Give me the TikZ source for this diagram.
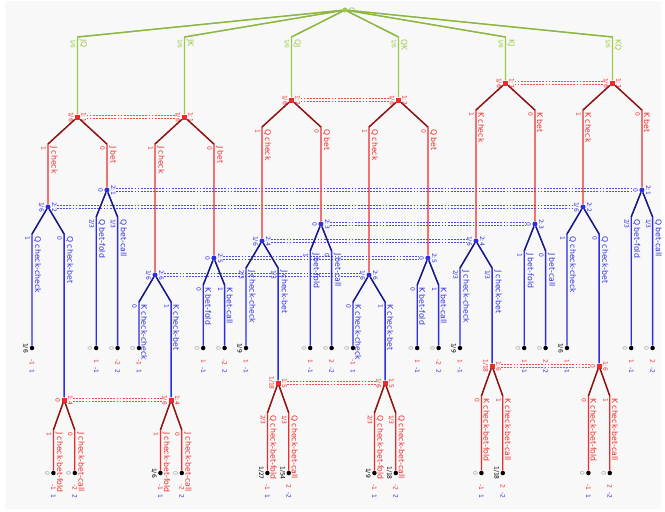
\documentclass[tikz,border=0pt]{standalone}
\usepackage{fontspec}
\setmainfont{DejaVu Sans}
\usetikzlibrary{calc}
\definecolor{playerone}{HTML}{EE2B2B}
\definecolor{playertwo}{HTML}{2E2EE0}
\definecolor{chance}{HTML}{9CC94A}
\definecolor{zerogray}{HTML}{9A9A9A}
\definecolor{canvas}{HTML}{F8F8F8}
\newcommand{\pay}[2]{\textcolor{playerone}{#1}\hspace{4.5pt}\textcolor{playertwo}{#2}}
\newcommand{\infoset}[3]{%
  \draw[#1] ([xshift=9pt,yshift=1.3pt]#2.center) -- ([xshift=-9pt,yshift=1.3pt]#3.center);
  \draw[#1] ([xshift=9pt,yshift=-1.3pt]#2.center) -- ([xshift=-9pt,yshift=-1.3pt]#3.center);}

\begin{document}
\begin{tikzpicture}[
    x=1pt, y=-1pt,
    actfont/.style={font=\fontsize{7.8}{8}\selectfont},
    numfont/.style={font=\fontsize{6}{6}\selectfont},
    gfork/.style={to path={let \p1=(\tikztostart), \p2=(\tikztotarget) in -- (\x2,\y1-#1) -- (\tikztotarget) \tikztonodes (\tikztostart) edge[diag] (\x2,\y1-#1)}},
    gfork/.default=27pt,
    chedge/.style={color=chance, line width=1.3pt, diag/.style={to path={-- (\tikztotarget)}, color=chance!90!black}},
    oneedge/.style={color=playerone, line width=1.3pt, diag/.style={to path={-- (\tikztotarget)}, color=playerone!55!black}},
    twoedge/.style={color=playertwo, line width=1.3pt, diag/.style={to path={-- (\tikztotarget)}, color=playertwo!55!black}},
    act/.style={actfont, rotate=-90, anchor=south west, pos=0, inner sep=1.5pt},
    prob/.style={numfont, rotate=-90, anchor=north west, pos=0, inner sep=1.5pt},
    chnode/.style={circle, fill=chance, inner sep=0pt, minimum size=5pt},
    onenode/.style={rectangle, fill=playerone, inner sep=0pt, minimum size=5pt},
    twonode/.style={circle, fill=playertwo, inner sep=0pt, minimum size=5pt},
    leaf/.style={circle, fill=black, inner sep=0pt, minimum size=4.5pt},
    labl/.style={numfont, rotate=-90, anchor=north, inner sep=1.2pt},
    labr/.style={numfont, rotate=-90, anchor=south, inner sep=1.2pt},
    onel/.style={labl, text=playerone},
    oner/.style={labr, text=playerone},
    twol/.style={labl, text=playertwo},
    twor/.style={labr, text=playertwo},
    zl/.style={labl, text=zerogray},
    kl/.style={labl, text=black},
    pay/.style={numfont, rotate=-90, anchor=west, inner xsep=8.5pt, inner ysep=0pt},
    oneset/.style={draw=playerone!85!white, line width=0.8pt, dash pattern=on 1.8pt off 1.3pt},
    twoset/.style={draw=playertwo!85!white, line width=0.8pt, dash pattern=on 1.8pt off 1.3pt}
]

\useasboundingbox (0,0) rectangle (665,512);
\fill[canvas] (5,1) rectangle (661,509);

% Chance node
\node[chnode, label={[labr, actfont, text=chance]right:C}] (c) at (345,10) {};

% Player 1 first moves
\node[onenode, label={[onel]left:1/6}, label={[oner]right:{1:1}}] (jq) at (77.5,117) {};
\node[onenode, label={[onel]left:1/6}, label={[oner]right:{1:1}}] (jk) at (184.5,117) {};
\node[onenode, label={[onel]left:1/6}, label={[oner]right:{1:2}}] (qj) at (291.5,100) {};
\node[onenode, label={[onel]left:1/6}, label={[oner]right:{1:2}}] (qk) at (398.5,100) {};
\node[onenode, label={[onel]left:1/6}, label={[oner]right:{1:3}}] (kj) at (505.5,83) {};
\node[onenode, label={[onel]left:1/6}, label={[oner]right:{1:3}}] (kq) at (612.5,83) {};

% Player 2 moves
\node[twonode, label={[twol]left:1/6}, label={[twor]right:{2:2}}] (jq-c) at (48,207) {};
\node[twonode, label={[twol]left:0}, label={[twor]right:{2:1}}] (jq-b) at (106.9,190) {};
\node[twonode, label={[twol]left:1/6}, label={[twor]right:{2:6}}] (jk-c) at (155,275) {};
\node[twonode, label={[twol]left:0}, label={[twor]right:{2:5}}] (jk-b) at (213.9,258) {};
\node[twonode, label={[twol]left:1/6}, label={[twor]right:{2:4}}] (qj-c) at (262,241) {};
\node[twonode, label={[twol]left:0}, label={[twor]right:{2:3}}] (qj-b) at (320.9,224) {};
\node[twonode, label={[twol]left:1/6}, label={[twor]right:{2:6}}] (qk-c) at (369,275) {};
\node[twonode, label={[twol]left:0}, label={[twor]right:{2:5}}] (qk-b) at (427.9,258) {};
\node[twonode, label={[twol]left:1/6}, label={[twor]right:{2:4}}] (kj-c) at (476,241) {};
\node[twonode, label={[twol]left:0}, label={[twor]right:{2:3}}] (kj-b) at (534.9,224) {};
\node[twonode, label={[twol]left:1/6}, label={[twor]right:{2:2}}] (kq-c) at (583,207) {};
\node[twonode, label={[twol]left:0}, label={[twor]right:{2:1}}] (kq-b) at (641.9,190) {};

% Player 1 after check-bet
\node[onenode, label={[onel]left:0}, label={[oner]right:{1:4}}] (jq-cb) at (64.1,400) {};
\node[onenode, label={[onel]left:1/6}, label={[oner]right:{1:4}}] (jk-cb) at (171.1,400) {};
\node[onenode, label={[onel]left:1/18}, label={[oner]right:{1:5}}] (qj-cb) at (278.1,383) {};
\node[onenode, label={[onel]left:1/6}, label={[oner]right:{1:5}}] (qk-cb) at (385.1,383) {};
\node[onenode, label={[onel]left:1/18}, label={[oner]right:{1:6}}] (kj-cb) at (492.1,366) {};
\node[onenode, label={[onel]left:0}, label={[oner]right:{1:6}}] (kq-cb) at (599.1,366) {};

% Terminal nodes
\node[leaf, label={[kl]left:1/6}, label={[pay]below:{\pay{-1}{1}}}] (jq-cc) at (32,348) {};
\node[leaf, label={[zl]left:0}, label={[pay]below:{\pay{-1}{1}}}] (jq-cbf) at (53.4,473) {};
\node[leaf, label={[zl]left:0}, label={[pay]below:{\pay{-2}{2}}}] (jq-cbc) at (74.8,473) {};
\node[leaf, label={[zl]left:0}, label={[pay]below:{\pay{1}{-1}}}] (jq-bf) at (96.2,348) {};
\node[leaf, label={[zl]left:0}, label={[pay]below:{\pay{-2}{2}}}] (jq-bc) at (117.6,348) {};

\node[leaf, label={[zl]left:0}, label={[pay]below:{\pay{-1}{1}}}] (jk-cc) at (139,348) {};
\node[leaf, label={[kl]left:1/6}, label={[pay]below:{\pay{-1}{1}}}] (jk-cbf) at (160.4,473) {};
\node[leaf, label={[zl]left:0}, label={[pay]below:{\pay{-2}{2}}}] (jk-cbc) at (181.8,473) {};
\node[leaf, label={[zl]left:0}, label={[pay]below:{\pay{1}{-1}}}] (jk-bf) at (203.2,348) {};
\node[leaf, label={[zl]left:0}, label={[pay]below:{\pay{-2}{2}}}] (jk-bc) at (224.6,348) {};

\node[leaf, label={[kl]left:1/9}, label={[pay]below:{\pay{1}{-1}}}] (qj-cc) at (246,348) {};
\node[leaf, label={[kl]left:1/27}, label={[pay]below:{\pay{-1}{1}}}] (qj-cbf) at (267.4,473) {};
\node[leaf, label={[kl]left:1/54}, label={[pay]below:{\pay{2}{-2}}}] (qj-cbc) at (288.8,473) {};
\node[leaf, label={[zl]left:0}, label={[pay]below:{\pay{1}{-1}}}] (qj-bf) at (310.2,348) {};
\node[leaf, label={[zl]left:0}, label={[pay]below:{\pay{2}{-2}}}] (qj-bc) at (331.6,348) {};

\node[leaf, label={[zl]left:0}, label={[pay]below:{\pay{-1}{1}}}] (qk-cc) at (353,348) {};
\node[leaf, label={[kl]left:1/9}, label={[pay]below:{\pay{-1}{1}}}] (qk-cbf) at (374.4,473) {};
\node[leaf, label={[kl]left:1/18}, label={[pay]below:{\pay{-2}{2}}}] (qk-cbc) at (395.8,473) {};
\node[leaf, label={[zl]left:0}, label={[pay]below:{\pay{1}{-1}}}] (qk-bf) at (417.2,348) {};
\node[leaf, label={[zl]left:0}, label={[pay]below:{\pay{-2}{2}}}] (qk-bc) at (438.6,348) {};

\node[leaf, label={[kl]left:1/9}, label={[pay]below:{\pay{1}{-1}}}] (kj-cc) at (460,348) {};
\node[leaf, label={[zl]left:0}, label={[pay]below:{\pay{-1}{1}}}] (kj-cbf) at (481.4,473) {};
\node[leaf, label={[kl]left:1/18}, label={[pay]below:{\pay{2}{-2}}}] (kj-cbc) at (502.8,473) {};
\node[leaf, label={[zl]left:0}, label={[pay]below:{\pay{1}{-1}}}] (kj-bf) at (524.2,348) {};
\node[leaf, label={[zl]left:0}, label={[pay]below:{\pay{2}{-2}}}] (kj-bc) at (545.6,348) {};

\node[leaf, label={[kl]left:1/6}, label={[pay]below:{\pay{1}{-1}}}] (kq-cc) at (567,348) {};
\node[leaf, label={[zl]left:0}, label={[pay]below:{\pay{-1}{1}}}] (kq-cbf) at (588.4,473) {};
\node[leaf, label={[zl]left:0}, label={[pay]below:{\pay{2}{-2}}}] (kq-cbc) at (609.8,473) {};
\node[leaf, label={[zl]left:0}, label={[pay]below:{\pay{1}{-1}}}] (kq-bf) at (631.2,348) {};
\node[leaf, label={[zl]left:0}, label={[pay]below:{\pay{2}{-2}}}] (kq-bc) at (652.6,348) {};

% Information sets
\infoset{oneset}{jq}{jk}
\infoset{oneset}{qj}{qk}
\infoset{oneset}{kj}{kq}
\infoset{twoset}{jq-b}{kq-b}
\infoset{twoset}{jq-c}{kq-c}
\infoset{twoset}{qj-b}{kj-b}
\infoset{twoset}{qj-c}{kj-c}
\infoset{twoset}{jk-b}{qk-b}
\infoset{twoset}{jk-c}{qk-c}
\infoset{oneset}{jq-cb}{jk-cb}
\infoset{oneset}{qj-cb}{qk-cb}
\infoset{oneset}{kj-cb}{kq-cb}

% Deals
\draw[chedge] (c) to[gfork] node[prob]{1/6} node[act]{JQ} (jq);
\draw[chedge] (c) to[gfork] node[prob]{1/6} node[act]{JK} (jk);
\draw[chedge] (c) to[gfork] node[prob]{1/6} node[act]{QJ} (qj);
\draw[chedge] (c) to[gfork] node[prob]{1/6} node[act]{QK} (qk);
\draw[chedge] (c) to[gfork] node[prob]{1/6} node[act]{KJ} (kj);
\draw[chedge] (c) to[gfork] node[prob]{1/6} node[act]{KQ} (kq);

% JQ branch
\draw[oneedge] (jq) to[gfork] node[prob]{1} node[act]{J check} (jq-c);
\draw[oneedge] (jq) to[gfork] node[prob]{0} node[act]{J bet} (jq-b);
\draw[twoedge] (jq-c) to[gfork] node[prob]{1} node[act]{Q check-check} (jq-cc);
\draw[twoedge] (jq-c) to[gfork] node[prob]{0} node[act]{Q check-bet} (jq-cb);
\draw[oneedge] (jq-cb) to[gfork=30pt] node[prob]{1} node[act]{J check-bet-fold} (jq-cbf);
\draw[oneedge] (jq-cb) to[gfork=30pt] node[prob]{0} node[act]{J check-bet-call} (jq-cbc);
\draw[twoedge] (jq-b) to[gfork] node[prob]{2/3} node[act]{Q bet-fold} (jq-bf);
\draw[twoedge] (jq-b) to[gfork] node[prob]{1/3} node[act]{Q bet-call} (jq-bc);

% JK branch
\draw[oneedge] (jk) to[gfork] node[prob]{1} node[act]{J check} (jk-c);
\draw[oneedge] (jk) to[gfork] node[prob]{0} node[act]{J bet} (jk-b);
\draw[twoedge] (jk-c) to[gfork] node[prob]{0} node[act]{K check-check} (jk-cc);
\draw[twoedge] (jk-c) to[gfork] node[prob]{1} node[act]{K check-bet} (jk-cb);
\draw[oneedge] (jk-cb) to[gfork=30pt] node[prob]{1} node[act]{J check-bet-fold} (jk-cbf);
\draw[oneedge] (jk-cb) to[gfork=30pt] node[prob]{0} node[act]{J check-bet-call} (jk-cbc);
\draw[twoedge] (jk-b) to[gfork] node[prob]{0} node[act]{K bet-fold} (jk-bf);
\draw[twoedge] (jk-b) to[gfork] node[prob]{1} node[act]{K bet-call} (jk-bc);

% QJ branch
\draw[oneedge] (qj) to[gfork] node[prob]{1} node[act]{Q check} (qj-c);
\draw[oneedge] (qj) to[gfork] node[prob]{0} node[act]{Q bet} (qj-b);
\draw[twoedge] (qj-c) to[gfork] node[prob]{2/3} node[act]{J check-check} (qj-cc);
\draw[twoedge] (qj-c) to[gfork] node[prob]{1/3} node[act]{J check-bet} (qj-cb);
\draw[oneedge] (qj-cb) to[gfork=30pt] node[prob]{2/3} node[act]{Q check-bet-fold} (qj-cbf);
\draw[oneedge] (qj-cb) to[gfork=30pt] node[prob]{1/3} node[act]{Q check-bet-call} (qj-cbc);
\draw[twoedge] (qj-b) to[gfork] node[prob]{1} node[act]{J bet-fold} (qj-bf);
\draw[twoedge] (qj-b) to[gfork] node[prob]{0} node[act]{J bet-call} (qj-bc);

% QK branch
\draw[oneedge] (qk) to[gfork] node[prob]{1} node[act]{Q check} (qk-c);
\draw[oneedge] (qk) to[gfork] node[prob]{0} node[act]{Q bet} (qk-b);
\draw[twoedge] (qk-c) to[gfork] node[prob]{0} node[act]{K check-check} (qk-cc);
\draw[twoedge] (qk-c) to[gfork] node[prob]{1} node[act]{K check-bet} (qk-cb);
\draw[oneedge] (qk-cb) to[gfork=30pt] node[prob]{2/3} node[act]{Q check-bet-fold} (qk-cbf);
\draw[oneedge] (qk-cb) to[gfork=30pt] node[prob]{1/3} node[act]{Q check-bet-call} (qk-cbc);
\draw[twoedge] (qk-b) to[gfork] node[prob]{0} node[act]{K bet-fold} (qk-bf);
\draw[twoedge] (qk-b) to[gfork] node[prob]{1} node[act]{K bet-call} (qk-bc);

% KJ branch
\draw[oneedge] (kj) to[gfork] node[prob]{1} node[act]{K check} (kj-c);
\draw[oneedge] (kj) to[gfork] node[prob]{0} node[act]{K bet} (kj-b);
\draw[twoedge] (kj-c) to[gfork] node[prob]{2/3} node[act]{J check-check} (kj-cc);
\draw[twoedge] (kj-c) to[gfork] node[prob]{1/3} node[act]{J check-bet} (kj-cb);
\draw[oneedge] (kj-cb) to[gfork=30pt] node[prob]{0} node[act]{K check-bet-fold} (kj-cbf);
\draw[oneedge] (kj-cb) to[gfork=30pt] node[prob]{1} node[act]{K check-bet-call} (kj-cbc);
\draw[twoedge] (kj-b) to[gfork] node[prob]{1} node[act]{J bet-fold} (kj-bf);
\draw[twoedge] (kj-b) to[gfork] node[prob]{0} node[act]{J bet-call} (kj-bc);

% KQ branch
\draw[oneedge] (kq) to[gfork] node[prob]{1} node[act]{K check} (kq-c);
\draw[oneedge] (kq) to[gfork] node[prob]{0} node[act]{K bet} (kq-b);
\draw[twoedge] (kq-c) to[gfork] node[prob]{1} node[act]{Q check-check} (kq-cc);
\draw[twoedge] (kq-c) to[gfork] node[prob]{0} node[act]{Q check-bet} (kq-cb);
\draw[oneedge] (kq-cb) to[gfork=30pt] node[prob]{0} node[act]{K check-bet-fold} (kq-cbf);
\draw[oneedge] (kq-cb) to[gfork=30pt] node[prob]{1} node[act]{K check-bet-call} (kq-cbc);
\draw[twoedge] (kq-b) to[gfork] node[prob]{2/3} node[act]{Q bet-fold} (kq-bf);
\draw[twoedge] (kq-b) to[gfork] node[prob]{1/3} node[act]{Q bet-call} (kq-bc);

\end{tikzpicture}
\end{document}
